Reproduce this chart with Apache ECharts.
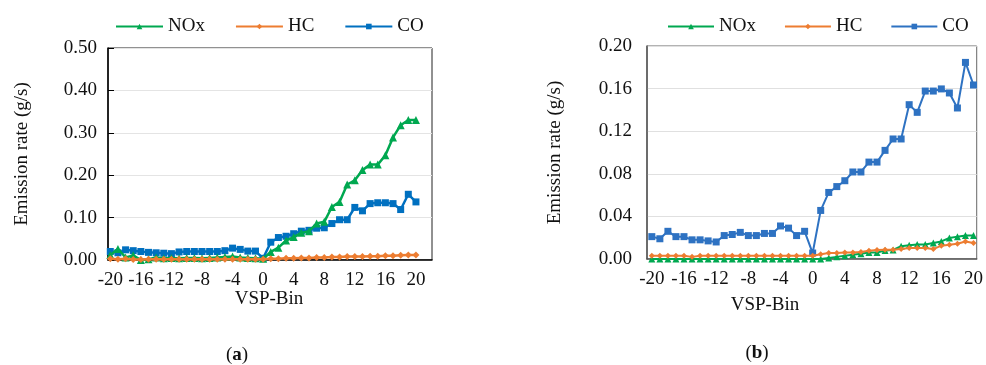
<!DOCTYPE html>
<html>
<head>
<meta charset="utf-8">
<script src="https://cdn.jsdelivr.net/npm/echarts@6/dist/echarts.min.js"></script>
<style>html,body{margin:0;padding:0;background:#fff}#c{width:986px;height:365px}</style>
</head>
<body>
<div id="c"></div>
<script>
// VSP bins (categories)
const categories = [-20,-19,-18,-17,-16,-15,-14,-13,-12,-11,-10,-9,-8,-7,-6,-5,-4,-3,-2,-1,0,1,2,3,4,5,6,7,8,9,10,11,12,13,14,15,16,17,18,19,20];
const xTickLabels = [-20,-16,-12,-8,-4,0,4,8,12,16,20];
const seriesNames = ['NOx','HC','CO'];

// Panel (a)
const noxA = [0.012,0.026,0.006,0.011,0.000,0.002,0.006,0.004,0.005,0.004,0.005,0.005,0.004,0.005,0.006,0.007,0.008,0.006,0.005,0.004,0.003,
              0.019,0.029,0.046,0.054,0.064,0.068,0.086,0.090,0.125,0.137,0.178,0.188,0.212,0.225,0.225,0.247,0.289,0.318,0.330,0.330];
const hcA  = [0.003,0.002,0.003,0.001,0.001,0.002,0.002,0.002,0.002,0.002,0.002,0.002,0.002,0.002,0.002,0.002,0.002,0.002,0.002,0.002,0.002,
              0.003,0.003,0.004,0.004,0.005,0.005,0.006,0.006,0.007,0.007,0.008,0.008,0.008,0.009,0.009,0.010,0.010,0.011,0.012,0.012];
const coA  = [0.020,0.017,0.024,0.022,0.020,0.018,0.017,0.016,0.015,0.019,0.020,0.020,0.020,0.020,0.020,0.022,0.028,0.025,0.021,0.021,0.004,
              0.042,0.053,0.056,0.062,0.068,0.070,0.075,0.076,0.086,0.095,0.095,0.124,0.116,0.133,0.135,0.135,0.133,0.119,0.155,0.137];

// Panel (b)
const noxB = [0.000,0.000,0.000,0.000,0.000,0.000,0.000,0.000,0.000,0.000,0.000,0.000,0.000,0.000,0.000,0.000,0.000,0.000,0.000,0.000,0.000,
              0.000,0.001,0.002,0.003,0.004,0.005,0.006,0.006,0.008,0.0085,0.012,0.013,0.0137,0.0137,0.015,0.0165,0.0197,0.021,0.022,0.022];
const hcB  = [0.003,0.003,0.003,0.003,0.003,0.002,0.003,0.003,0.003,0.003,0.003,0.003,0.003,0.003,0.003,0.003,0.003,0.003,0.003,0.003,0.003,
              0.0045,0.0056,0.0056,0.006,0.006,0.0065,0.0078,0.0084,0.0087,0.0087,0.0093,0.0103,0.0103,0.0103,0.0093,0.0125,0.0134,0.0143,0.0165,0.015];
const coB  = [0.021,0.019,0.026,0.021,0.021,0.018,0.018,0.017,0.016,0.022,0.023,0.025,0.022,0.022,0.024,0.024,0.031,0.029,0.022,0.026,0.0056,
              0.0456,0.0625,0.068,0.0735,0.0817,0.0817,0.091,0.091,0.102,0.1127,0.1127,0.1449,0.1377,0.1577,0.1577,0.1597,0.1559,0.1418,0.1846,0.1634];

const yTicksA = [0,0.1,0.2,0.3,0.4,0.5];
const yTicksB = [0,0.04,0.08,0.12,0.16,0.2];

const FONT = 'Liberation Serif';
const green = '#00A850', orange = '#ED7D31', blueA = '#0070C0', blueB = '#2E72C2';
const pair = v => categories.map((c, i) => [c, v[i]]);

function mk(name, data, color, symbol, size, idx, lw) {
  return {
    name, type: 'line', data: pair(data), xAxisIndex: idx, yAxisIndex: idx,
    symbol, symbolSize: size, showSymbol: true,
    lineStyle: {color, width: lw}, itemStyle: {color},
    animation: false, z: name === 'CO' ? 3 : (name === 'NOx' ? 4 : 5)
  };
}

const txt = {fontFamily: FONT, fontSize: 19, color: '#111'};

const chart = echarts.init(document.getElementById('c'), null, {renderer: 'canvas'});
chart.setOption({
  animation: false,
  backgroundColor: '#fff',
  title: [
    {text: 'VSP-Bin', left: 264, top: 285, textAlign: 'center', textStyle: Object.assign({fontWeight: 'normal'}, txt)},
    {text: 'VSP-Bin', left: 760, top: 291, textAlign: 'center', textStyle: Object.assign({fontWeight: 'normal'}, txt)},
    {text: '({b|a})', left: 232, top: 341, textAlign: 'center', textStyle: Object.assign({fontWeight: 'normal', rich: {b: {fontWeight: 'bold', fontFamily: FONT, fontSize: 19, color: '#111'}}}, txt)},
    {text: '({b|b})', left: 752, top: 339, textAlign: 'center', textStyle: Object.assign({fontWeight: 'normal', rich: {b: {fontWeight: 'bold', fontFamily: FONT, fontSize: 19, color: '#111'}}}, txt)}
  ],
  legend: [
    {left: 110, top: 12, itemWidth: 47, itemHeight: 7, itemGap: 30, textStyle: txt,
     data: seriesNames.map(n => ({name: n}))},
    {left: 662, top: 12, itemWidth: 46, itemHeight: 7, itemGap: 28, textStyle: txt,
     data: [
       {name: 'NOx', itemStyle: {color: green}, lineStyle: {color: green}},
       {name: 'HC', itemStyle: {color: orange}, lineStyle: {color: orange}},
       {name: 'CO', itemStyle: {color: blueB}, lineStyle: {color: blueB}}
     ]}
  ],
  grid: [
    {left: 108, top: 48, width: 324, height: 212, show: true, borderColor: '#222', borderWidth: 1},
    {left: 647, top: 46, width: 331, height: 213, show: true, borderColor: '#666', borderWidth: 1}
  ],
  xAxis: [
    {type: 'value', gridIndex: 0, min: -20.3, max: 22.1,
     axisLine: {show: true, onZero: false, lineStyle: {color: '#000', width: 1.5}},
     axisTick: {show: false}, splitLine: {show: false},
     axisLabel: {customValues: xTickLabels, margin: 11, fontFamily: FONT, fontSize: 19, color: '#111', formatter: v => String(v)}},
    {type: 'value', gridIndex: 1, min: -20.6, max: 20.4,
     axisLine: {show: true, onZero: false, lineStyle: {color: '#555', width: 1.5}},
     axisTick: {show: false}, splitLine: {show: false},
     axisLabel: {customValues: xTickLabels, margin: 11, fontFamily: FONT, fontSize: 19, color: '#111', formatter: v => String(v)}}
  ],
  yAxis: [
    {type: 'value', gridIndex: 0, min: yTicksA[0], max: yTicksA[yTicksA.length - 1], interval: 0.1,
     name: 'Emission rate (g/s)', nameLocation: 'middle', nameGap: 76, nameTextStyle: txt,
     axisLine: {show: true, onZero: false, lineStyle: {color: '#000', width: 1.5}},
     axisTick: {show: true, inside: true, length: 6, lineStyle: {color: '#000'}},
     splitLine: {show: true, lineStyle: {color: '#e4e4e4', width: 1}},
     axisLabel: {margin: 11, fontFamily: FONT, fontSize: 19, color: '#111', formatter: v => v.toFixed(2)}},
    {type: 'value', gridIndex: 1, min: yTicksB[0], max: yTicksB[yTicksB.length - 1], interval: 0.04,
     name: 'Emission rate (g/s)', nameLocation: 'middle', nameGap: 82, nameTextStyle: txt,
     axisLine: {show: true, onZero: false, lineStyle: {color: '#555', width: 1.5}},
     axisTick: {show: false},
     splitLine: {show: true, lineStyle: {color: '#e0e0e0', width: 1}},
     axisLabel: {margin: 15, fontFamily: FONT, fontSize: 19, color: '#111', formatter: v => v.toFixed(2)}}
  ],
  series: [
    mk('NOx', noxA, green, 'triangle', 8, 0, 2.5),
    mk('HC', hcA, orange, 'diamond', 7, 0, 2.5),
    mk('CO', coA, blueA, 'rect', 7, 0, 2.5),
    mk('NOx', noxB, green, 'triangle', 7, 1, 2),
    mk('HC', hcB, orange, 'diamond', 6, 1, 2),
    mk('CO', coB, blueB, 'rect', 7, 1, 2)
  ]
});
</script>
</body>
</html>
